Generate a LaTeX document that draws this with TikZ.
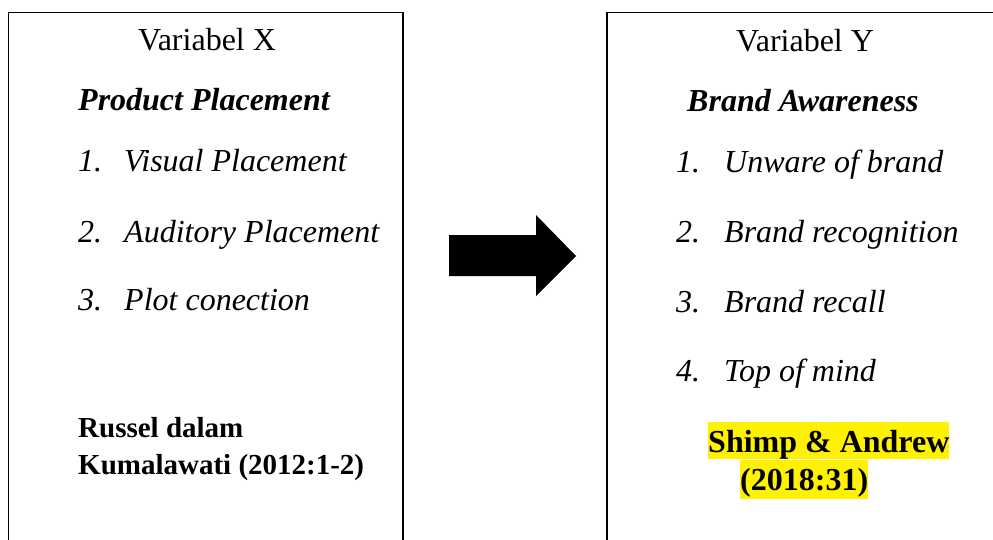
\documentclass[tikz,border=0pt]{standalone}
\usepackage{fontspec}
\setmainfont{Liberation Serif}
\begin{document}
\begin{tikzpicture}[x=1pt,y=-1pt,
  txt/.style={anchor=base west,inner sep=0pt,font=\fontsize{32}{38}\selectfont},
  itx/.style={txt,font=\fontsize{32}{38}\selectfont\itshape},
  bix/.style={txt,font=\fontsize{32}{38}\selectfont\bfseries\itshape},
  bfx/.style={txt,font=\fontsize{32}{38}\selectfont\bfseries},
  cite/.style={txt,font=\fontsize{29}{35}\selectfont\bfseries},
  hl/.style={bfx,fill=yellow,text height=30pt,text depth=7pt},
  frame/.style={draw=black,line width=1.3pt},
]
\useasboundingbox (0,0) rectangle (993,540);
\clip (0,0) rectangle (993,540);
% boxes
\draw[frame] (8.5,545) -- (8.5,12.4) -- (403,12.4) -- (403,545);
\draw[frame] (607,545) -- (607,12.8) -- (1000,12.8);
% arrow
\fill[black] (449,235) -- (536,235) -- (536,215) -- (576,256) -- (536,296) -- (536,276) -- (449,276) -- cycle;
% left texts
\node[txt] (vx) at (138,51) {Variabel X};
\node[bix] (pp) at (78,111) {Product Placement};
\node[itx] (n1) at (78,172) {1.};
\node[itx] (t1) at (124,172) {Visual Placement};
\node[itx] (n2) at (78,243) {2.};
\node[itx] (t2) at (124,243) {Auditory Placement};
\node[itx] (n3) at (78,310) {3.};
\node[itx] (t3) at (124,310) {Plot conection};
\node[cite] (r1) at (78,437) {Russel dalam};
\node[cite] (r2) at (78,474) {Kumalawati (2012:1-2)};
% right texts
\node[txt] (vy) at (736,52) {Variabel Y};
\node[bix] (ba) at (687,112) {Brand Awareness};
\node[itx] (m1) at (676,173) {1.};
\node[itx] (u1) at (724,173) {Unware of brand};
\node[itx] (m2) at (676,243) {2.};
\node[itx] (u2) at (724,243) {Brand recognition};
\node[itx] (m3) at (676,312) {3.};
\node[itx] (u3) at (724,312) {Brand recall};
\node[itx] (m4) at (676,381) {4.};
\node[itx] (u4) at (724,381) {Top of mind};
\node[hl] (s1) at (708,452) {Shimp \& Andrew};
\node[hl,text depth=8.5pt] (s2) at (740,490) {(2018:31)};
\end{tikzpicture}
\end{document}
